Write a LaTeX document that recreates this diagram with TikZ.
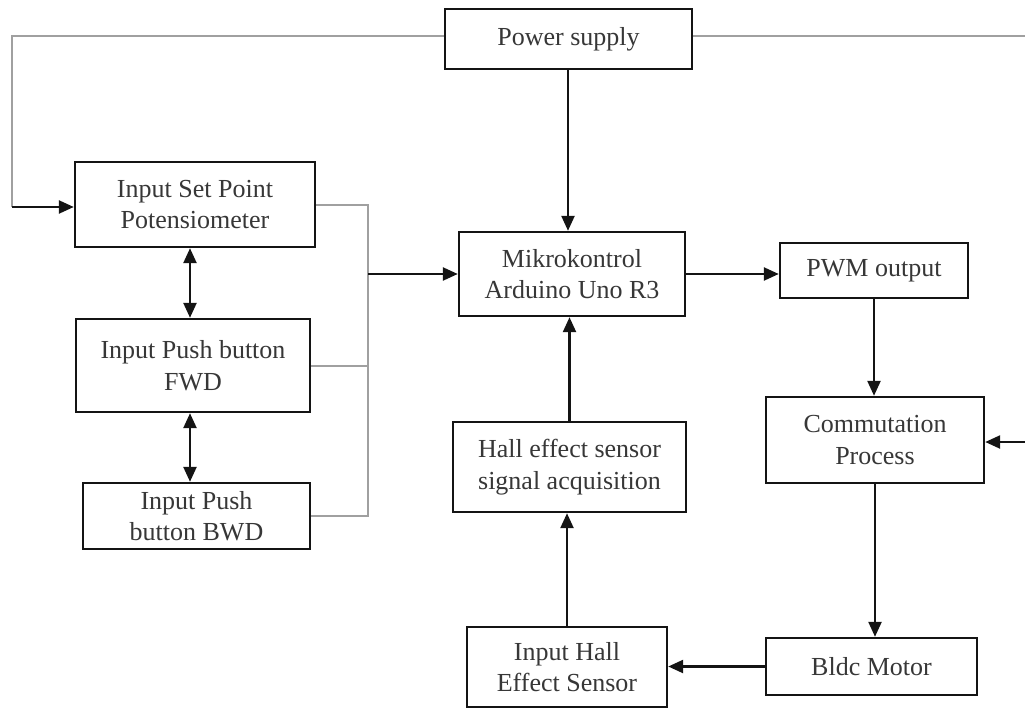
\documentclass[tikz,border=0pt]{standalone}
\usepackage{fontspec}
\setmainfont{Liberation Serif}
\usetikzlibrary{arrows.meta}
\definecolor{wire}{RGB}{160,160,160}
\definecolor{ink}{RGB}{20,20,20}
\tikzset{
  blk/.style={draw=ink, line width=2.4pt, fill=white, inner sep=0pt, align=center,
    text=ink!85, font=\fontsize{26}{31.5}\selectfont},
  arr/.style={draw=ink, line width=2.4pt, -{Triangle[length=15pt,width=13pt]}},
  darr/.style={draw=ink, line width=2.4pt, {Triangle[length=15pt,width=13pt]}-{Triangle[length=15pt,width=13pt]}},
  gl/.style={draw=wire, line width=2pt},
}
\begin{document}
\begin{tikzpicture}[x=1pt,y=-1pt]
\useasboundingbox (0,0) rectangle (1025,709);
% boxes
\node[blk, minimum width=247pt, minimum height=60pt] (power) at (568.5,39) {Power supply};
\node[blk, minimum width=240pt, minimum height=85pt] (setpt) at (195,204.5) {Input Set Point\\Potensiometer};
\node[blk, minimum width=234pt, minimum height=93pt] (fwd) at (193,365.5) {Input Push button\\FWD};
\node[blk, minimum width=227pt, minimum height=66pt] (bwd) at (196.5,516) {Input Push\\button BWD};
\node[blk, minimum width=226pt, minimum height=84pt] (mk) at (572,274) {Mikrokontrol\\Arduino Uno R3};
\node[blk, minimum width=188pt, minimum height=55pt] (pwm) at (874,270.5) {PWM output};
\node[blk, minimum width=233pt, minimum height=90pt] (hallacq) at (569.5,467) {Hall effect sensor\\signal acquisition};
\node[blk, minimum width=218pt, minimum height=86pt] (comm) at (875,440) {Commutation\\Process};
\node[blk, minimum width=200pt, minimum height=80pt] (inhall) at (567,667) {Input Hall\\Effect Sensor};
\node[blk, minimum width=211pt, minimum height=57pt] (bldc) at (871.5,666.5) {Bldc Motor};
% helper coordinates
\coordinate (lc) at (12,207);
\coordinate (bus) at (368,0);
\coordinate (bx) at (190,0);
\coordinate (rout) at (1025,36);
\coordinate (rin) at (1025,442);
\coordinate (vx) at (568,0);
% power supply wires
\draw[gl] (power.west |- rout) -| (lc);
\draw[arr] (lc) -- (lc -| setpt.west);
\draw[gl] (rout -| power.east) -- (rout);
\draw[arr] (power.south -| vx) -- (mk.north -| vx);
% input bus
\draw[gl] (setpt.east) -| (bwd.east -| bus) -- (bwd.east);
\draw[gl] (fwd.east) -- (fwd.east -| bus);
\draw[arr] (mk.west -| bus) -- (mk.west);
\draw[darr] (setpt.south -| bx) -- (fwd.north -| bx);
\draw[darr] (fwd.south -| bx) -- (bwd.north -| bx);
% right chain
\draw[arr] (mk.east) -- (mk.east -| pwm.west);
\draw[arr] (pwm.south) -- (pwm.south |- comm.north);
\draw[arr] (rin) -- (rin -| comm.east);
\draw[arr] (comm.south) -- (comm.south |- bldc.north);
\draw[arr] (bldc.west) -- (bldc.west -| inhall.east);
\draw[arr] (inhall.north) -- (inhall.north |- hallacq.south);
\draw[arr] (hallacq.north) -- (hallacq.north |- mk.south);
\end{tikzpicture}
\end{document}
